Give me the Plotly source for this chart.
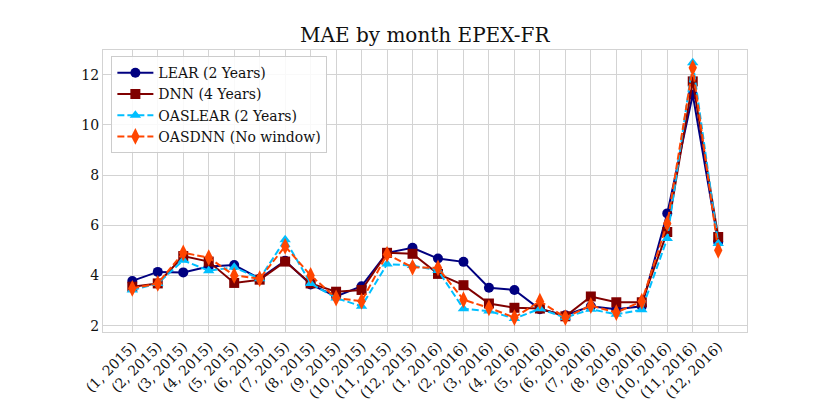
import plotly.graph_objects as go

months = [f"({m}, {y})" for y in (2015, 2016) for m in range(1, 13)]

lear = [3.78, 4.14, 4.12, 4.35, 4.41, 3.87, 4.58, 3.64, 3.16, 3.57, 4.90, 5.10,
        4.67, 4.54, 3.51, 3.42, 2.65, 2.41, 2.77, 2.65, 2.77, 6.47, 11.20, 5.33]
dnn = [3.55, 3.68, 4.77, 4.55, 3.70, 3.83, 4.55, 3.68, 3.35, 3.42, 4.90, 4.86,
       4.06, 3.61, 2.88, 2.71, 2.68, 2.37, 3.16, 2.93, 2.93, 5.73, 11.73, 5.53]
oaslear = [3.42, 3.68, 4.60, 4.19, 4.32, 3.87, 5.42, 3.68, 3.10, 2.77, 4.45, 4.39,
           4.20, 2.67, 2.58, 2.28, 2.67, 2.32, 2.65, 2.45, 2.63, 5.47, 12.47, 5.27]
oasdnn = [3.48, 3.68, 4.90, 4.71, 4.00, 3.87, 5.16, 4.00, 3.10, 2.97, 4.84, 4.32,
          4.30, 3.03, 2.71, 2.32, 2.97, 2.32, 2.80, 2.52, 2.97, 6.07, 12.27, 5.00]

series = [
    ("LEAR (2 Years)", lear, "#000080", "solid", "circle"),
    ("DNN (4 Years)", dnn, "#800000", "solid", "square"),
    ("OASLEAR (2 Years)", oaslear, "#00BFFF", "7px,3px", "triangle-up"),
    ("OASDNN (No window)", oasdnn, "#FF4500", "7px,3px", "diamond-tall"),
]

fig = go.Figure()
for name, vals, color, dash, symbol in series:
    fig.add_trace(go.Scatter(
        x=months, y=vals, name=name, mode="lines+markers",
        line=dict(color=color, width=2, dash=dash),
        marker=dict(color=color, symbol=symbol, size=10 if symbol != "diamond-tall" else 12),
    ))

# page body has an 8px margin, so the figure is a bit smaller than the window
serif = "DejaVu Serif"
fig.update_layout(
    width=822, height=407,
    margin=dict(l=95, r=83, t=42, b=83),
    paper_bgcolor="white", plot_bgcolor="white",
    font=dict(family=serif, size=14, color="#111"),
    title=dict(text="MAE by month EPEX-FR", x=0.507, xanchor="center",
               y=0.934, yanchor="middle", font=dict(family=serif, size=20, color="#111")),
    showlegend=True,
    legend=dict(x=0.013, y=0.978, xanchor="left", yanchor="top",
                bgcolor="rgba(255,255,255,0.85)", bordercolor="#cccccc", borderwidth=1,
                font=dict(family=serif, size=14, color="#111"),
                tracegroupgap=0, itemwidth=36),
)
fig.update_xaxes(type="category", range=[-1.15, 24.13], tickangle=-45,
                 showgrid=True, gridcolor="#d3d3d3", gridwidth=1,
                 showline=True, linecolor="#d3d3d3", mirror=True,
                 ticks="", tickfont=dict(family=serif, size=14))
fig.update_yaxes(range=[1.745, 12.98], tickvals=[2, 4, 6, 8, 10, 12],
                 showgrid=True, gridcolor="#d3d3d3", gridwidth=1,
                 showline=True, linecolor="#d3d3d3", mirror=True,
                 zeroline=False, ticks="", tickfont=dict(family=serif, size=14))

fig.write_html("out.html")
